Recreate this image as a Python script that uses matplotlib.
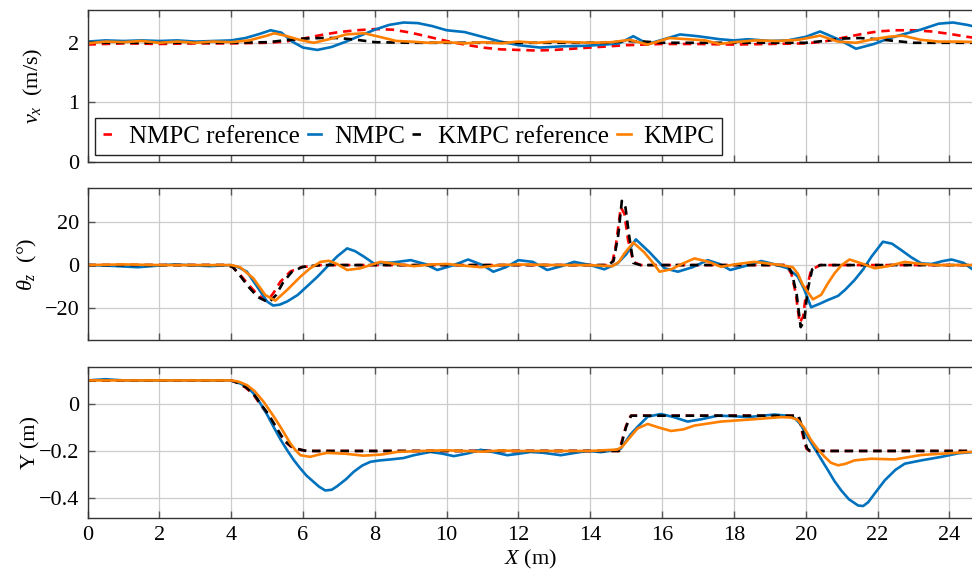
import matplotlib
matplotlib.use('Agg')
import matplotlib.pyplot as plt

plt.rcParams['font.family'] = ['Liberation Serif', 'DejaVu Serif']
plt.rcParams['mathtext.fontset'] = 'custom'
plt.rcParams['mathtext.rm'] = 'Liberation Serif'
plt.rcParams['mathtext.it'] = 'Liberation Serif:italic'
plt.rcParams['font.size'] = 16

# ---- forward velocity v_x (m/s) ----
x_vx_nref = [0, 1, 2, 3, 4, 5, 5.5, 6.0, 6.5, 7.0, 7.5, 8.0, 8.5, 9.0, 9.5, 10.0, 10.5, 11.0, 11.5, 12.0,
             12.5, 13.0, 13.5, 14.0, 14.5, 15.0, 16.0, 17.0, 18.0, 19.0, 20.0, 20.5, 21.0, 21.5, 22.0, 22.5,
             23.0, 23.5, 24.0, 24.5, 25]
vx_nref = [1.97, 1.99, 1.98, 1.99, 1.99, 2.0, 2.02, 2.07, 2.13, 2.18, 2.21, 2.23, 2.22, 2.17, 2.10, 2.03,
           1.97, 1.92, 1.89, 1.88, 1.87, 1.88, 1.90, 1.92, 1.94, 1.96, 1.98, 1.98, 1.97, 1.98, 1.99, 2.02,
           2.08, 2.14, 2.19, 2.21, 2.21, 2.19, 2.15, 2.10, 2.06]

x_vx_nmpc = [0, 0.5, 1, 1.5, 2, 2.5, 3, 3.5, 4, 4.4, 4.8, 5.1, 5.4, 5.7, 6.0, 6.4, 6.8, 7.2, 7.6, 8.0, 8.4,
             8.8, 9.2, 9.6, 10.0, 10.5, 11.0, 11.5, 12.0, 12.6, 13.2, 13.9, 14.4, 14.8, 15.2, 15.6, 16.0,
             16.5, 17.0, 17.6, 18.0, 18.4, 19.0, 19.5, 20.0, 20.4, 20.9, 21.4, 21.9, 22.3, 22.7, 23.2, 23.7,
             24.1, 24.5, 25.0]
vx_nmpc = [2.02, 2.04, 2.03, 2.04, 2.03, 2.04, 2.02, 2.03, 2.04, 2.08, 2.15, 2.21, 2.17, 2.02, 1.92, 1.88,
           1.93, 2.02, 2.12, 2.22, 2.30, 2.34, 2.33, 2.28, 2.21, 2.18, 2.10, 2.02, 1.96, 1.92, 1.94, 1.95,
           1.97, 1.99, 2.11, 1.98, 2.05, 2.14, 2.11, 2.06, 2.04, 2.06, 2.03, 2.04, 2.10, 2.19, 2.06, 1.90,
           1.98, 2.07, 2.14, 2.22, 2.32, 2.34, 2.30, 2.23]

x_vx_kref = [0, 2, 4, 5.0, 5.5, 6.0, 6.5, 7.0, 7.5, 8.0, 9, 12, 14.5, 15.0, 15.5, 16.0, 17, 20, 20.5, 21.0,
             21.5, 22.0, 22.5, 23, 25]
vx_kref = [2.0, 2.0, 2.0, 2.01, 2.04, 2.07, 2.08, 2.08, 2.05, 2.01, 2.0, 2.0, 2.0, 2.03, 2.02, 2.0, 2.0, 2.0,
           2.03, 2.07, 2.08, 2.06, 2.03, 2.0, 2.0]

x_vx_kmpc = [0, 0.5, 1, 1.5, 2, 2.5, 3, 3.5, 4, 4.5, 5.0, 5.2, 5.5, 5.9, 6.3, 6.8, 7.2, 7.7, 8.2, 8.6, 9.0,
             9.5, 10.0, 10.5, 11, 11.5, 12, 12.5, 13, 13.5, 14, 14.6, 15.1, 15.6, 16.2, 16.7, 17.2, 17.6,
             18.0, 18.6, 19.2, 19.8, 20.4, 20.9, 21.4, 21.8, 22.3, 22.7, 23.2, 23.7, 24.2, 25]
vx_kmpc = [1.99, 2.02, 2.01, 2.03, 2.0, 2.02, 2.0, 2.02, 2.01, 2.04, 2.12, 2.16, 2.12, 2.05, 2.0, 2.07,
           2.14, 2.16, 2.09, 2.03, 2.02, 2.0, 2.01, 1.99, 2.01, 1.99, 2.02, 2.0, 2.02, 2.01, 2.0, 2.01,
           2.05, 1.97, 2.08, 2.06, 2.04, 1.98, 2.01, 2.04, 2.03, 2.05, 2.12, 2.02, 2.0, 2.05, 2.1, 2.12,
           2.05, 2.02, 2.02, 2.01]

# ---- yaw angle theta_z (deg) ----
x_th_nref = [0, 3.9, 4.05, 4.25, 4.5, 4.75, 5.0, 5.18, 5.37, 5.65, 5.95, 6.5, 14.5, 14.62, 14.72, 14.85,
             14.95, 15.05, 15.2, 15.4, 19.45, 19.6, 19.72, 19.83, 19.93, 20.02, 20.15, 20.4, 25]
th_nref = [0, 0, -1, -4.5, -9.5, -14, -17, -13, -7.8, -3, -1, 0, 0, 1.5, 10, 27, 24, 12, 1.5, 0, 0, -4,
           -13, -27, -24, -11.5, -2.3, 0, 0]

x_th_nmpc = [0, 0.6, 1.4, 2.4, 3.4, 3.98, 4.2, 4.44, 4.72, 5.0, 5.17, 5.35, 5.56, 5.85, 6.11, 6.4, 6.67,
             6.95, 7.23, 7.45, 7.7, 7.97, 8.5, 9.0, 9.4, 9.74, 10.2, 10.6, 11.0, 11.3, 11.65, 12.0, 12.4,
             12.8, 13.2, 13.55, 14.0, 14.39, 14.76, 15.0, 15.27, 15.65, 16.07, 16.44, 16.85, 17.27, 17.6,
             17.9, 18.3, 18.76, 19.1, 19.5, 19.78, 19.95, 20.15, 20.4, 20.62, 20.9, 21.1, 21.36, 21.6,
             21.83, 22.15, 22.4, 22.66, 22.95, 23.22, 23.5, 23.8, 24.06, 24.4, 24.67, 25]
th_nmpc = [0, -0.3, -1, 0.3, -0.5, 0, -1, -3.1, -10, -17, -18.9, -18.5, -17, -14, -10, -5.5, -0.8, 4,
           7.8, 6.5, 3.9, 0.8, 1.2, 2.3, 0.5, -2.3, 0, 2.6, 0, -3.1, -1, 2.3, 1.5, -2.3, -0.5, 1.5, 0,
           -2, 0.8, 5, 12, 6, -1.5, -3.1, -1, 2.3, 0.5, -2.3, -0.5, 1.9, 0.5, -1.5, -5.4, -11, -19.7,
           -18, -16.3, -14.4, -11.5, -7, -2, 3.9, 10.9, 10, 7, 3.5, 0.8, 0.5, 1.8, 2.6, 1, -2.3, -3]

x_th_kref = [0, 3.9, 4.05, 4.25, 4.5, 4.75, 5.05, 5.25, 5.45, 5.7, 6.0, 6.5, 14.5, 14.65, 14.78, 14.88,
             14.98, 15.08, 15.2, 15.4, 19.5, 19.62, 19.75, 19.86, 19.96, 20.05, 20.18, 20.4, 25]
th_kref = [0, 0, -1, -5, -10.5, -15, -17.5, -14, -8, -3, -0.8, 0, 0, 2, 14, 30, 27, 14, 1, 0, 0, -4, -14,
           -29, -26, -12, -2, 0, 0]

x_th_kmpc = [0, 1, 2, 3, 4, 4.25, 4.62, 4.95, 5.23, 5.56, 5.93, 6.2, 6.49, 6.72, 6.95, 7.23, 7.6, 8.16,
             8.6, 9.09, 9.6, 10.02, 10.5, 10.95, 11.5, 12.0, 13.0, 13.9, 14.62, 14.8, 14.95, 15.2, 15.5,
             15.75, 15.93, 16.25, 16.55, 16.9, 17.3, 17.64, 18.1, 18.57, 19.3, 19.64, 19.78, 19.92, 20.2,
             20.43, 20.6, 20.8, 21.0, 21.22, 21.55, 21.92, 22.3, 22.76, 23.2, 23.69, 24.2, 25]
th_kmpc = [0, 0.3, 0, 0, 0, -1, -6.2, -14, -16.6, -11.6, -5.4, -1.5, 1.5, 2, 0.5, -2.3, -1.5, 1.5, 0.5,
           -0.5, 0.3, 0.5, -0.3, -1, 0, 0.3, 0, 0, -0.5, 1.5, 5.4, 10.5, 6, 1, -3.1, -2, 0.5, 3.1, 1.5,
           -0.8, 0.5, 1.5, 0, -1, -4, -9.3, -16, -13.9, -9, -3.9, 0, 2.6, 0.8, -1.5, -0.5, 1.5, 0.5, 0,
           0, 0]

# ---- lateral position Y (m) ----
x_y_nref = [0, 4.0, 4.16, 4.4, 4.62, 4.8, 5.0, 5.2, 5.37, 5.5, 5.65, 5.8, 5.93, 6.1, 14.8, 14.86, 14.93,
            14.99, 15.06, 15.13, 15.2, 19.78, 19.84, 19.9, 19.96, 20.02, 20.1, 25]
y_nref = [0.1, 0.1, 0.09, 0.07, 0.04, 0.0, -0.04, -0.09, -0.133, -0.16, -0.18, -0.19, -0.195, -0.2, -0.2,
          -0.17, -0.13, -0.097, -0.07, -0.05, -0.05, -0.05, -0.08, -0.12, -0.16, -0.19, -0.2, -0.2]

x_y_nmpc = [0, 0.5, 1, 2, 3, 3.98, 4.2, 4.44, 4.62, 4.81, 5.0, 5.18, 5.37, 5.56, 5.75, 5.93, 6.1, 6.3,
            6.45, 6.62, 6.8, 6.95, 7.2, 7.41, 7.65, 7.88, 8.15, 8.44, 8.8, 9.09, 9.55, 9.9, 10.2, 10.6,
            10.95, 11.3, 11.69, 12.0, 12.34, 12.7, 13.18, 13.5, 13.92, 14.3, 14.67, 14.85, 14.95, 15.12,
            15.32, 15.6, 15.97, 16.3, 16.71, 17.1, 17.55, 17.95, 18.39, 18.8, 19.13, 19.45, 19.69, 19.85,
            19.97, 20.1, 20.25, 20.45, 20.62, 20.8, 20.99, 21.2, 21.46, 21.6, 21.74, 21.95, 22.2, 22.5,
            22.76, 23.22, 23.78, 24.25, 25]
y_nmpc = [0.1, 0.105, 0.1, 0.1, 0.1, 0.1, 0.09, 0.074, 0.045, 0.003, -0.045, -0.097, -0.15, -0.197,
          -0.24, -0.275, -0.305, -0.332, -0.352, -0.368, -0.365, -0.35, -0.32, -0.289, -0.262, -0.246,
          -0.24, -0.236, -0.23, -0.218, -0.204, -0.212, -0.222, -0.21, -0.195, -0.205, -0.218, -0.212,
          -0.204, -0.208, -0.218, -0.21, -0.2, -0.205, -0.197, -0.19, -0.168, -0.13, -0.097, -0.054,
          -0.043, -0.055, -0.075, -0.065, -0.05, -0.052, -0.056, -0.05, -0.045, -0.05, -0.06, -0.085,
          -0.118, -0.152, -0.19, -0.24, -0.282, -0.328, -0.368, -0.405, -0.432, -0.434, -0.418, -0.375,
          -0.325, -0.28, -0.254, -0.24, -0.225, -0.21, -0.2]

x_y_kref = [0, 4.0, 4.18, 4.42, 4.64, 4.82, 5.02, 5.22, 5.39, 5.52, 5.67, 5.82, 5.95, 6.1, 14.8, 14.87,
            14.94, 15.0, 15.07, 15.14, 15.2, 19.8, 19.86, 19.92, 19.98, 20.04, 20.12, 25]
y_kref = [0.1, 0.1, 0.09, 0.07, 0.04, 0.0, -0.04, -0.09, -0.133, -0.16, -0.18, -0.19, -0.195, -0.2,
          -0.2, -0.17, -0.13, -0.097, -0.07, -0.05, -0.05, -0.05, -0.08, -0.12, -0.16, -0.19, -0.2, -0.2]

x_y_kmpc = [0, 1, 2, 3, 4.0, 4.2, 4.44, 4.65, 4.9, 5.15, 5.37, 5.5, 5.65, 5.8, 5.93, 6.2, 6.45, 6.67, 7.2,
            7.68, 8.2, 8.62, 9.3, 10.0, 10.5, 11, 11.5, 12, 13, 14, 14.76, 14.9, 15.04, 15.2, 15.32, 15.6,
            15.9, 16.25, 16.6, 16.9, 17.64, 18.57, 19.32, 19.6, 19.78, 19.95, 20.15, 20.35, 20.53, 20.7,
            20.9, 21.1, 21.36, 21.83, 22.48, 23.22, 23.97, 25]
y_kmpc = [0.1, 0.1, 0.1, 0.1, 0.1, 0.095, 0.08, 0.055, 0.01, -0.045, -0.097, -0.13, -0.168, -0.198,
          -0.218, -0.225, -0.215, -0.208, -0.212, -0.22, -0.215, -0.204, -0.2, -0.197, -0.2, -0.203,
          -0.198, -0.2, -0.2, -0.2, -0.194, -0.18, -0.154, -0.125, -0.104, -0.085, -0.1, -0.115, -0.108,
          -0.092, -0.075, -0.065, -0.056, -0.058, -0.068, -0.1, -0.154, -0.195, -0.225, -0.25, -0.261,
          -0.255, -0.24, -0.233, -0.236, -0.217, -0.21, -0.2]

labels = ['NMPC reference', 'NMPC', 'KMPC reference', 'KMPC']
colors = ['#ff0000', '#0072bd', '#000000', '#ff8000']
styles = [(0, (3.2, 2.2)), '-', (0, (3.2, 2.2)), '-']

panels = [
    ([(x_vx_nref, vx_nref), (x_vx_nmpc, vx_nmpc), (x_vx_kref, vx_kref), (x_vx_kmpc, vx_kmpc)],
     r'$v_x$  (m/s)', (0, 2.55), [0, 1, 2], ['0', '1', '2']),
    ([(x_th_nref, th_nref), (x_th_nmpc, th_nmpc), (x_th_kref, th_kref), (x_th_kmpc, th_kmpc)],
     r'$\theta_z$  (°)', (-35, 36), [-20, 0, 20], ['\u221220', '0', '20']),
    ([(x_y_nref, y_nref), (x_y_nmpc, y_nmpc), (x_y_kref, y_kref), (x_y_kmpc, y_kmpc)],
     'Y (m)', (-0.485, 0.157), [-0.4, -0.2, 0], ['\u22120.4', '\u22120.2', '0']),
]
label_x = [-0.048, -0.055, -0.053]

fig = plt.figure(figsize=(9.72, 5.77), dpi=100)
tops = [10, 188, 367]
bottoms = [162, 340, 518]
axes = []
for i, (series, ylab, ylim, yt, ytl) in enumerate(panels):
    ax = fig.add_axes([87.5 / 972, 1 - bottoms[i] / 577, 887 / 972, (bottoms[i] - tops[i]) / 577])
    for (xs, ys), c, ls, lab in zip(series, colors, styles, labels):
        ax.plot(xs, ys, color=c, linestyle=ls, lw=1.9, label=lab)
    ax.set_xlim(0, 24.7)
    ax.set_ylim(*ylim)
    ax.set_xticks(range(0, 25, 2))
    ax.set_yticks(yt)
    ax.set_yticklabels(ytl)
    ax.grid(True, color='#cccccc', lw=0.9)
    ax.set_axisbelow(True)
    ax.tick_params(direction='in', length=5, width=1, color='#555555', top=True, right=False,
                   labelsize=16, pad=6)
    for s in ax.spines.values():
        s.set_color('#333333')
        s.set_linewidth(1.0)
    ax.set_ylabel(ylab, fontsize=16)
    ax.yaxis.set_label_coords(label_x[i], 0.5)
    if i < 2:
        ax.set_xticklabels([])
    axes.append(ax)

axes[2].set_xlabel(r'$X$ (m)', fontsize=16, labelpad=2)

leg = axes[0].legend(loc='lower left', bbox_to_anchor=(0.009, 0.045), borderaxespad=0, ncol=4,
                     handlelength=0.55, handletextpad=0.5, columnspacing=0.3, fancybox=False,
                     framealpha=1, edgecolor='#222222', fontsize=18, borderpad=0.3)
leg.get_frame().set_linewidth(1.0)

fig.savefig('out.png', dpi=100)
